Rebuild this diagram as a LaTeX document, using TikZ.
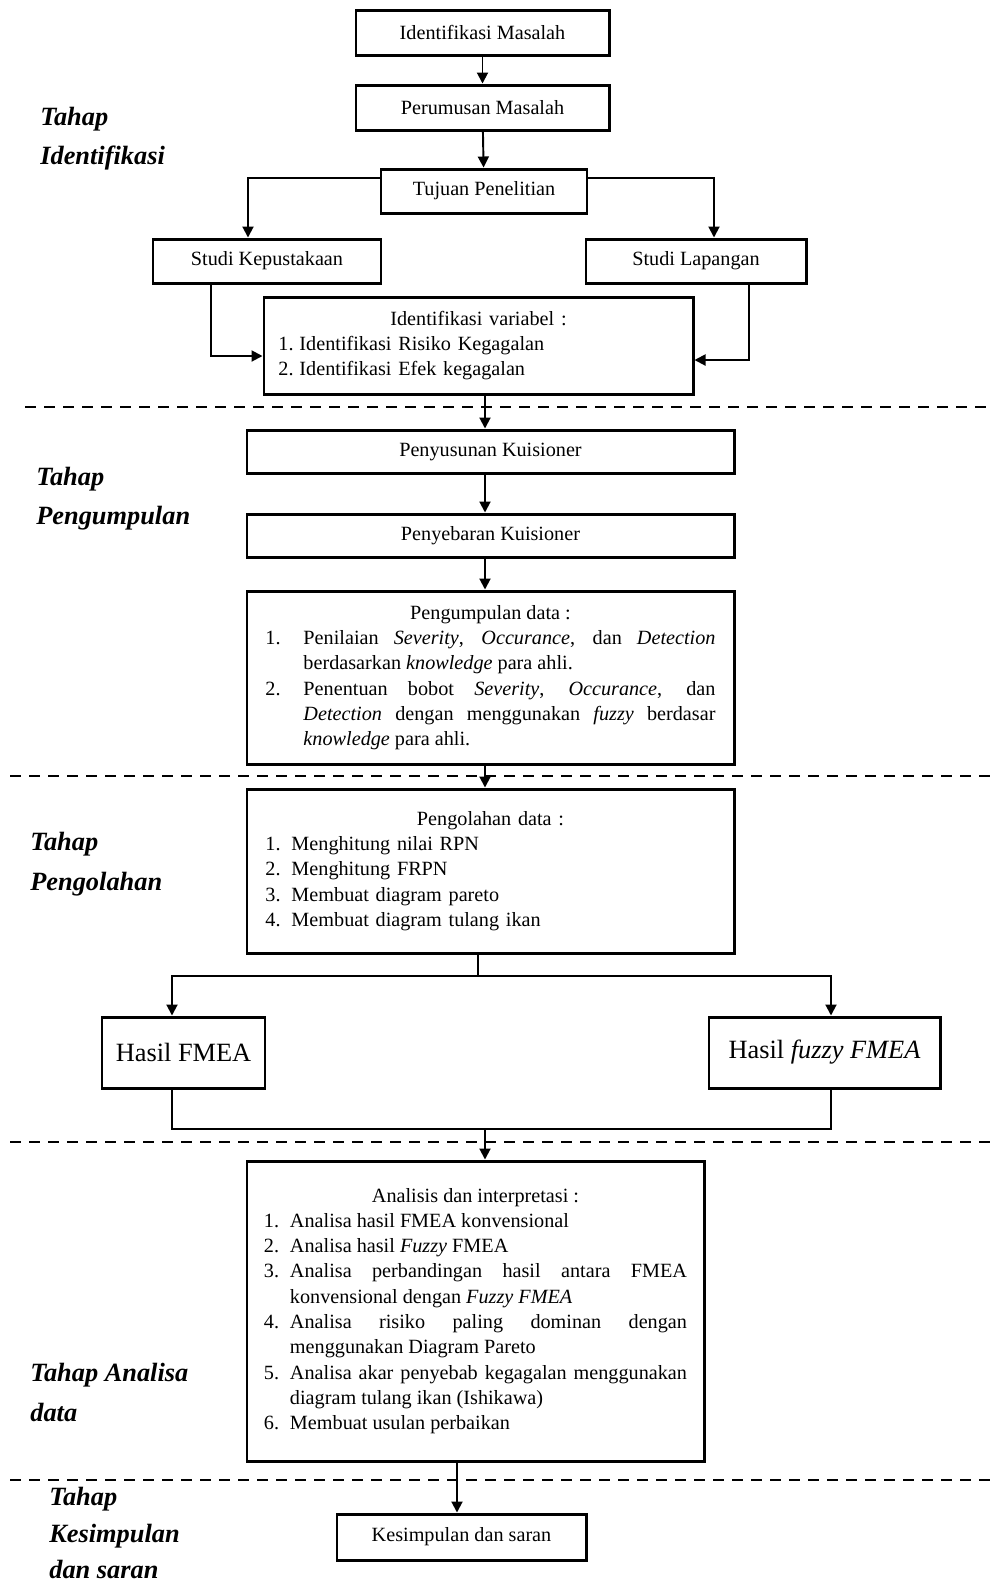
\documentclass[tikz,border=0pt]{standalone}
\usepackage{fontspec}
\setmainfont{Liberation Serif}
\usetikzlibrary{arrows.meta,positioning}
\hyphenpenalty=10000
\exhyphenpenalty=10000
\newcommand{\numitem}[3]{\par\hangindent=#1\hangafter=1\noindent\makebox[#1][l]{#2}#3\par}
\tikzset{
  procbox/.style={rectangle,draw=black,line width=1.7pt,fill=white,
    inner sep=2pt,align=center,font=\fontsize{11.5}{14.4}\selectfont},
  listbox/.style={rectangle,draw=black,line width=1.7pt,fill=white,
    inner sep=2pt,font=\fontsize{11.5}{14.4}\selectfont},
  resultbox/.style={rectangle,draw=black,line width=1.7pt,fill=white,
    align=center,font=\fontsize{15}{18}\selectfont},
  phaselabel/.style={anchor=west,align=left,inner sep=0pt,
    font=\fontsize{15}{22.4}\selectfont\bfseries\itshape},
  arrow/.style={-{Triangle[length=2.2mm,width=2.2mm]},line width=1.1pt},
  link/.style={line width=1.1pt},
  phaseline/.style={line width=1.1pt,dash pattern=on 2.2mm off 1.6mm}
}
\begin{document}
\begin{tikzpicture}[x=0.2mm,y=-0.2mm]
  \useasboundingbox (0,0) rectangle (992,1586);
  % tahap identifikasi
  \node[procbox,minimum width=50.6mm,minimum height=9mm] (masalah) at (482.5,32.5) {Identifikasi Masalah};
  \node[procbox,minimum width=50.6mm,minimum height=9mm] (rumusan) at (482.5,107.5) {Perumusan Masalah};
  \node[procbox,minimum width=41.2mm,minimum height=8.8mm] (tujuan) at (484,191) {Tujuan Penelitian};
  \node[procbox,minimum width=45.6mm,minimum height=8.8mm] (pustaka) at (267,261) {Studi Kepustakaan};
  \node[procbox,minimum width=44mm,minimum height=8.8mm] (lapangan) at (696,261) {Studi Lapangan};
  \node[listbox,minimum width=85.8mm,minimum height=19.4mm,text width=80mm,align=left] (variabel) at (478.5,345.5)
    {{\centering Identifikasi variabel :\par}
     \numitem{4.2mm}{1.}{Identifikasi Risiko Kegagalan}
     \numitem{4.2mm}{2.}{Identifikasi Efek kegagalan}};
  % tahap pengumpulan
  \node[procbox,minimum width=97.4mm,minimum height=8.6mm] (susun) at (490.5,451.5) {Penyusunan Kuisioner};
  \node[procbox,minimum width=97.4mm,minimum height=8.6mm] (sebar) at (490.5,535.5) {Penyebaran Kuisioner};
  \node[listbox,minimum width=97.4mm,minimum height=34.6mm,text width=90mm,align=justify] (kumpul) at (490.5,677.5)
    {{\centering Pengumpulan data :\par}
     \numitem{7.6mm}{1.}{Penilaian \textit{Severity}, \textit{Occurance}, dan \textit{Detection} berdasarkan \textit{knowledge} para ahli.}
     \numitem{7.6mm}{2.}{Penentuan bobot \textit{Severity}, \textit{Occurance}, dan\linebreak \textit{Detection} dengan menggunakan \textit{fuzzy} berdasar\linebreak \textit{knowledge} para ahli.}};
  % tahap pengolahan
  \node[listbox,minimum width=97.4mm,minimum height=32.8mm,text width=90mm,align=left] (olah) at (490.5,871)
    {{\centering Pengolahan data :\par}
     \numitem{5.2mm}{1.}{Menghitung nilai RPN}
     \numitem{5.2mm}{2.}{Menghitung FRPN}
     \numitem{5.2mm}{3.}{Membuat diagram pareto}
     \numitem{5.2mm}{4.}{Membuat diagram tulang ikan}};
  \node[resultbox,minimum width=32.6mm,minimum height=14.2mm] (fmea) at (183.5,1052.5) {Hasil FMEA};
  \node[resultbox,minimum width=46.2mm,minimum height=14.2mm] (fuzzy) at (824.5,1052.5) {Hasil \textit{fuzzy FMEA}};
  % tahap analisa
  \node[listbox,minimum width=91.4mm,minimum height=60mm,text width=84.6mm,align=justify] (analisis) at (475.5,1311)
    {{\centering Analisis dan interpretasi :\par}
     \numitem{5.2mm}{1.}{Analisa hasil FMEA konvensional}
     \numitem{5.2mm}{2.}{Analisa hasil \textit{Fuzzy} FMEA}
     \numitem{5.2mm}{3.}{Analisa perbandingan hasil antara FMEA konvensional dengan \textit{Fuzzy FMEA}}
     \numitem{5.2mm}{4.}{Analisa risiko paling dominan dengan menggunakan Diagram Pareto}
     \numitem{5.2mm}{5.}{Analisa akar penyebab kegagalan menggunakan diagram tulang ikan (Ishikawa)}
     \numitem{5.2mm}{6.}{Membuat usulan perbaikan}};
  \node[procbox,minimum width=49.8mm,minimum height=9.2mm] (simpul) at (461.5,1537) {Kesimpulan dan saran};
  % label tahap
  \node[phaselabel] (lblident) at (40,138.5) {Tahap\\Identifikasi};
  \node[phaselabel] (lblkumpul) at (36,498.5) {Tahap\\Pengumpulan};
  \node[phaselabel] (lblolah) at (30,864) {Tahap\\Pengolahan};
  \node[phaselabel] (lblanalisa) at (30,1392.5) {Tahap Analisa\\data};
  \node[phaselabel,font=\fontsize{15}{21}\selectfont\bfseries\itshape] (lblsimpul) at (49,1533) {Tahap\\Kesimpulan\\dan saran};
  % garis pemisah tahap
  \draw[phaseline] (25,407) -- (992,407);
  \draw[phaseline] (10,776) -- (992,776);
  \draw[phaseline] (10,1142) -- (992,1142);
  \draw[phaseline] (10,1480) -- (992,1480);
  % alur
  \draw[arrow] (masalah) -- (rumusan);
  \draw[arrow] (rumusan) -- (tujuan);
  \draw[arrow] ([yshift=2.6mm]tujuan.west) -| ([xshift=-3.8mm]pustaka.north);
  \draw[arrow] ([yshift=2.6mm]tujuan.east) -| ([xshift=3.6mm]lapangan.north);
  \draw[arrow] ([xshift=-11.2mm]pustaka.south) |- ([yshift=-2.1mm]variabel.west);
  \draw[arrow] ([xshift=10.6mm]lapangan.south) |- ([yshift=-2.9mm]variabel.east);
  \draw[arrow] ([xshift=1.3mm]variabel.south) -- ([xshift=1.3mm]variabel.south |- susun.north);
  \draw[arrow] ([xshift=-1.1mm]susun.south) -- ([xshift=-1.1mm]sebar.north);
  \draw[arrow] ([xshift=-1.1mm]sebar.south) -- ([xshift=-1.1mm]kumpul.north);
  \draw[arrow] ([xshift=-1.1mm]kumpul.south) -- ([xshift=-1.1mm]olah.north);
  \coordinate (split) at (478,976);
  \draw[link] ([xshift=-2.5mm]olah.south) -- (split);
  \draw[arrow] (split) -| ([xshift=-2.3mm]fmea.north);
  \draw[arrow] (split) -| ([xshift=1.3mm]fuzzy.north);
  \coordinate (merge) at (485,1129);
  \draw[link] ([xshift=-2.3mm]fmea.south) |- (merge) -| ([xshift=1.3mm]fuzzy.south);
  \draw[arrow] (merge) -- (merge |- analisis.north);
  \draw[arrow] ([xshift=-3.7mm]analisis.south) -- ([xshift=-3.7mm]analisis.south |- simpul.north);
\end{tikzpicture}
\end{document}
